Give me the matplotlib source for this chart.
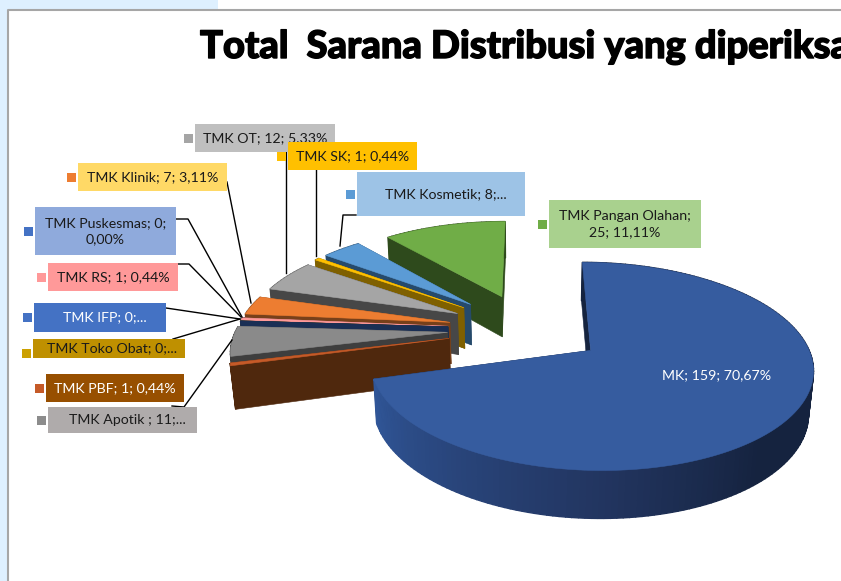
import matplotlib
matplotlib.use('Agg')
import matplotlib.pyplot as plt
import matplotlib.patheffects as pe
from matplotlib.patches import Polygon, Rectangle
import numpy as np

# data
categories = ['MK', 'TMK PBF', 'TMK Apotik ', 'TMK Toko Obat', 'TMK IFP', 'TMK RS', 'TMK Puskesmas',
              'TMK Klinik', 'TMK OT', 'TMK SK', 'TMK Kosmetik', 'TMK Pangan Olahan']
values = [159, 1, 11, 0, 0, 1, 0, 7, 12, 1, 8, 25]
percents = ['70,67%', '0,44%', '4,89%', '0,00%', '0,00%', '0,44%', '0,00%', '3,11%', '5,33%', '0,44%', '3,56%', '11,11%']

# warna
top_colors = ['#365C9F', '#C55A28', '#8A8A8A', '#BF9000', '#264478', '#FF9999', '#4472C4',
              '#ED7D31', '#A5A5A5', '#FFC000', '#5B9BD5', '#70AD47']
wall_colors = ['#16243F', '#4F280D', '#3E3E3E', '#5F4800', '#1A2F55', '#804D4D', '#223962',
               '#77401A', '#474747', '#7F6000', '#264A6B', '#2E4A1C']
draw_order = [11, 10, 9, 8, 6, 7, 5, 3, 4, 2, 1, 0]
explode = [0.36, 0.38, 0.38, 0.38, 0.38, 0.38, 0.38, 0.38, 0.38, 0.39, 0.39, 0.38]

# proyeksi pie 3d
cx, cy, R = 528, 329, 215
sin_e, cos_e = 0.45, 0.893
D = 5.9
w0 = 0.1
depth = 0.225


def project(x, y, z=0.0):
    w = y * cos_e - z * sin_e + w0
    s = D / (D + w)
    v = y * sin_e + z * cos_e
    return cx + R * s * x, cy - R * s * v


def quad(ax, pts, color, zorder=2, lw=0.4):
    ax.add_patch(Polygon(pts, closed=True, fc=color, ec=color, lw=lw, zorder=zorder))


fig = plt.figure(figsize=(8.41, 5.81), dpi=100)
ax = fig.add_axes([0, 0, 1, 1])
ax.set_xlim(0, 841)
ax.set_ylim(581, 0)
ax.axis('off')

# latar
ax.add_patch(Rectangle((0, 0), 8, 581, fc='#DEF0FF', ec='none', zorder=0))
ax.add_patch(Rectangle((0, 0), 218, 9, fc='#DEF0FF', ec='none', zorder=0))
ax.plot([8, 8, 841], [581, 9.5, 9.5], color='#A6A6A6', lw=1.5, zorder=1)

total = sum(values)
cum = np.cumsum([0] + values)
# warna dinding MK dari kiri ke kanan
shade_angle = [196, 270, 310, 360]
shade_rgb = np.array([[0x30, 0x56, 0x98], [0x22, 0x35, 0x60], [0x15, 0x23, 0x3F], [0x15, 0x23, 0x3F]]) / 255

for i in draw_order:
    a1 = np.pi / 2 - 2 * np.pi * cum[i] / total
    a2 = np.pi / 2 - 2 * np.pi * cum[i + 1] / total
    mid = (a1 + a2) / 2
    ox, oy = explode[i] * np.cos(mid), explode[i] * np.sin(mid)
    th = np.linspace(a1, a2, max(2, int(abs(a1 - a2) * 40)))
    xs = ox + np.cos(th)
    ys = oy + np.sin(th)

    # dinding potongan
    for a in (a1, a2):
        ex, ey = ox + np.cos(a), oy + np.sin(a)
        quad(ax, [project(ox, oy), project(ex, ey), project(ex, ey, -depth), project(ox, oy, -depth)], wall_colors[i])

    # dinding luar
    for j in range(len(th) - 1):
        if i == 0:
            deg = np.degrees((th[j] + th[j + 1]) / 2) % 360
            c = [np.interp(deg, shade_angle, shade_rgb[:, k]) for k in range(3)]
            if deg < 180:
                c = shade_rgb[-1]
        else:
            c = wall_colors[i]
        quad(ax, [project(xs[j], ys[j]), project(xs[j + 1], ys[j + 1]),
                  project(xs[j + 1], ys[j + 1], -depth), project(xs[j], ys[j], -depth)], c, lw=1.0)

    # permukaan atas
    if values[i] > 0:
        top = [project(ox, oy)] + [project(x, y) for x, y in zip(xs, ys)]
        quad(ax, top, top_colors[i], zorder=2)

# garis penunjuk
leaders = [
    [(227, 182), (251, 303)],
    [(176, 219), (188, 219), (242, 317)],
    [(178, 264), (189, 264), (241, 317)],
    [(166, 308), (240, 319)],
    [(173, 339), (240, 319)],
    [(172, 406), (184, 407), (232, 340)],
    [(286, 150), (286, 273)],
    [(316, 170), (316, 256)],
    [(356, 215), (343, 215), (340, 246)],
]
for pts in leaders:
    ax.plot([p[0] for p in pts], [p[1] for p in pts], color='black', lw=1.0, zorder=3)

# kotak label: indeks, kotak, warna kotak, warna kunci, warna teks, teks, geser teks
labels = [
    (8, (195, 124, 335, 152), '#BFBFBF', '#A5A5A5', '#1A1A1A', None, 0),
    (9, (288, 142, 417, 170), '#FFC000', '#FFC000', '#1A1A1A', None, 0),
    (10, (357, 172, 525, 216), '#9DC3E6', '#5B9BD5', '#1A1A1A', 'TMK Kosmetik; 8;...', 5),
    (11, (549, 200, 701, 248), '#A9D18E', '#70AD47', '#1A1A1A', 'TMK Pangan Olahan;\n25; 11,11%', 0),
    (7, (78, 163, 227, 191), '#FFD966', '#ED7D31', '#1A1A1A', None, 0),
    (6, (35, 207, 176, 255), '#8FAADC', '#4472C4', '#1A1A1A', 'TMK Puskesmas; 0;\n0,00%', 0),
    (5, (48, 263, 178, 291), '#FF9999', '#FF9999', '#1A1A1A', None, 0),
    (4, (34, 303, 166, 332), '#4472C4', '#4472C4', 'white', 'TMK IFP; 0;...', 5),
    (3, (33, 339, 185, 358), '#BF9000', '#CCA000', '#1A1A1A', 'TMK Toko Obat; 0;...', 3),
    (1, (46, 374, 184, 402), '#974F00', '#C55A28', 'white', None, 0),
    (2, (48, 407, 197, 433), '#AFABAB', '#8C8C8C', '#1A1A1A', 'TMK Apotik ; 11;...', 5),
]
for n, (idx, box, fc, key, tc, txt, dx) in enumerate(labels):
    x0, y0, x1, y1 = box
    z = 4 + n * 0.01
    ax.add_patch(Rectangle((x0, y0), x1 - x0, y1 - y0, fc=fc, ec='none', zorder=z))
    ky = (y0 + y1) / 2 - 4.5 if idx != 3 else y1 - 9
    ax.add_patch(Rectangle((x0 - 11, ky), 9, 9, fc=key, ec='none', zorder=z))
    if txt is None:
        txt = f'{categories[idx]}; {values[idx]}; {percents[idx]}'
    ax.text((x0 + x1) / 2 + dx, (y0 + y1) / 2, txt, color=tc, linespacing=1.4, family='Lato',
            fontsize=10.2, ha='center', va='center', zorder=z + 0.005)

ax.text(717, 375, f'{categories[0]}; {values[0]}; {percents[0]}', color='white',
        family='Lato', fontsize=10.2, ha='center', va='center', zorder=6)

# judul
title = ax.text(200, 58, 'Total  Sarana Distribusi yang diperiksa', family='Lato', weight=900,
                fontsize=27.4, color='black', ha='left', va='baseline', zorder=6)
title.set_path_effects([pe.withStroke(linewidth=1.0, foreground='black')])

fig.savefig('out.png', dpi=100)
